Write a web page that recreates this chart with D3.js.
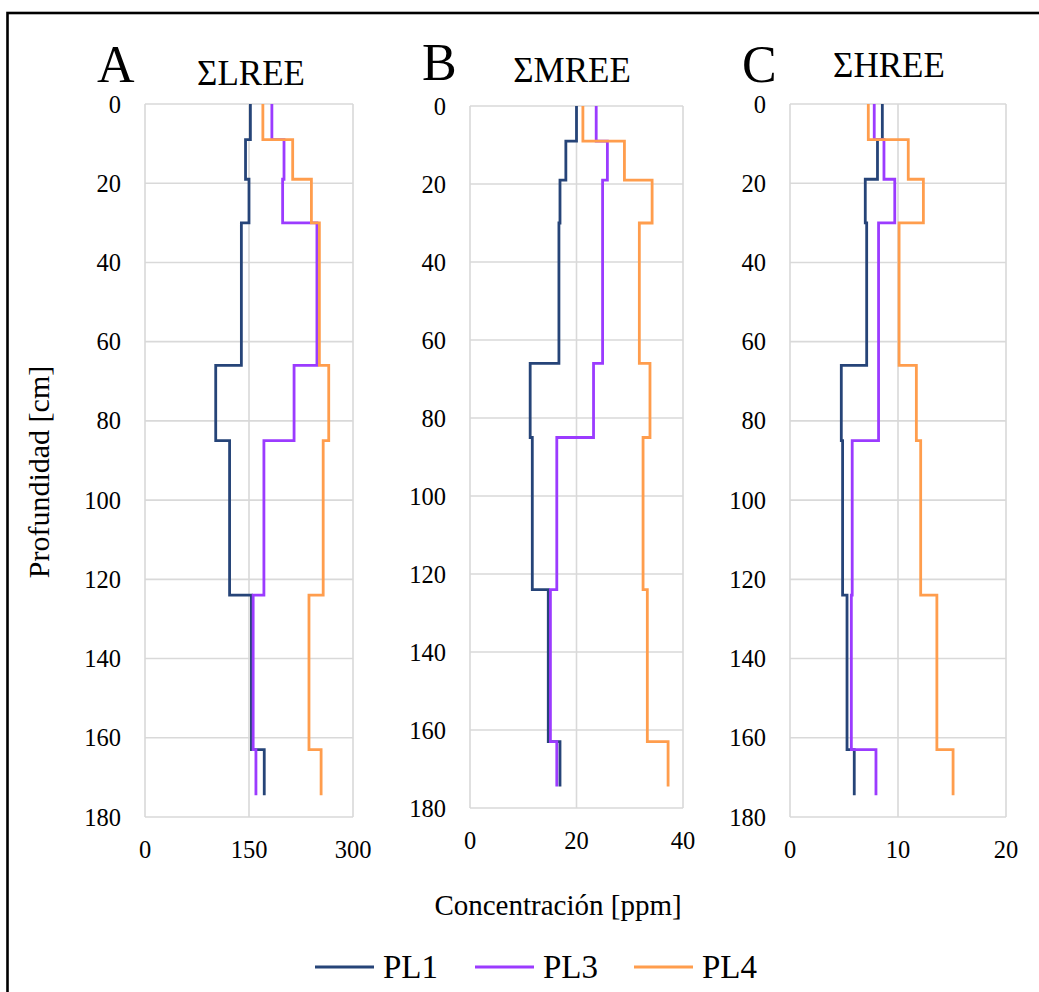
<!DOCTYPE html>
<html><head><meta charset="utf-8">
<script src="https://cdn.jsdelivr.net/npm/d3@7"></script>
<style>
body{margin:0;background:#fff}
</style>
</head><body>
<svg id="chart" width="1039" height="992" font-family="'Liberation Serif', 'DejaVu Serif', serif"></svg>
<script>
// ---- data ----
const depths = [0, 9, 19, 30, 66, 85, 124, 163, 174.5];
const seriesNames = ["PL1", "PL3", "PL4"];
const seriesColors = ["#264478", "#9B3BFF", "#FF9D4D"];

const lreePL1 = [152, 145, 150, 139, 102, 122, 153.5, 172];
const lreePL3 = [183, 200.5, 198.5, 248, 215, 171.5, 156, 160];
const lreePL4 = [170, 213, 240, 251.5, 265, 257, 236.5, 254];

const mreePL1 = [20.0, 18.0, 16.9, 16.7, 11.3, 11.7, 14.7, 16.9];
const mreePL3 = [23.7, 25.8, 24.9, 24.9, 23.2, 16.3, 15.1, 16.3];
const mreePL4 = [21.2, 29.0, 34.2, 31.8, 33.8, 32.5, 33.3, 37.2];

const hreePL1 = [8.55, 8.1, 6.97, 7.1, 4.75, 4.87, 5.28, 5.95];
const hreePL3 = [7.8, 8.7, 9.7, 8.2, 8.2, 5.76, 5.68, 7.96];
const hreePL4 = [7.25, 10.95, 12.35, 10.1, 11.7, 12.1, 13.6, 15.1];

const panelLetters = ["A", "B", "C"];
const panelTitles = ["ΣLREE", "ΣMREE", "ΣHREE"];
const xTicksA = [0, 150, 300];
const xTicksB = [0, 20, 40];
const xTicksC = [0, 10, 20];
const yTicks = [0, 20, 40, 60, 80, 100, 120, 140, 160, 180];
const yLabel = "Profundidad [cm]";
const xLabel = "Concentración [ppm]";

// ---- layout ----
const FONT = "'Liberation Serif', 'DejaVu Serif', serif";
const panels = [
  {letter: panelLetters[0], title: panelTitles[0], ticks: xTicksA, series: [lreePL1, lreePL3, lreePL4],
   left: 145, right: 353, top: 104, bottom: 817, titleX: 251, titleY: 85, letterY: 82},
  {letter: panelLetters[1], title: panelTitles[1], ticks: xTicksB, series: [mreePL1, mreePL3, mreePL4],
   left: 470, right: 683, top: 106, bottom: 808, titleX: 572, titleY: 82, letterY: 80},
  {letter: panelLetters[2], title: panelTitles[2], ticks: xTicksC, series: [hreePL1, hreePL3, hreePL4],
   left: 790, right: 1006, top: 104, bottom: 817, titleX: 889, titleY: 77, letterY: 82}
];

const svg = d3.select("#chart");
svg.append("rect").attr("width", 1039).attr("height", 992).attr("fill", "#fff");
// outer frame (extends beyond the picture on the right and bottom)
svg.append("rect").attr("x", 7.5).attr("y", 13).attr("width", 1200).attr("height", 1200)
  .attr("fill", "none").attr("stroke", "#000").attr("stroke-width", 2.6);

const gridColor = "#d9d9d9";
function txt(sel) { return sel.attr("font-family", FONT).style("font-family", FONT).attr("fill", "#000"); }

panels.forEach(p => {
  const x = d3.scaleLinear().domain([p.ticks[0], p.ticks[p.ticks.length - 1]]).range([p.left, p.right]);
  const y = d3.scaleLinear().domain([0, 180]).range([p.top, p.bottom]);
  const g = svg.append("g");

  g.selectAll("line.hg").data(yTicks).join("line")
    .attr("x1", p.left).attr("x2", p.right)
    .attr("y1", d => y(d)).attr("y2", d => y(d))
    .attr("stroke", gridColor).attr("stroke-width", 1.6);
  g.selectAll("line.vg").data(p.ticks).join("line")
    .attr("x1", d => x(d)).attr("x2", d => x(d))
    .attr("y1", p.top).attr("y2", p.bottom)
    .attr("stroke", gridColor).attr("stroke-width", 1.6);

  txt(g.selectAll("text.yt").data(yTicks).join("text"))
    .attr("x", p.left - 24).attr("y", d => y(d) + 8.5)
    .attr("text-anchor", "end").attr("font-size", 24.5).text(d => d);
  txt(g.selectAll("text.xt").data(p.ticks).join("text"))
    .attr("x", d => x(d)).attr("y", p.bottom + 41)
    .attr("text-anchor", "middle").attr("font-size", 24.5).text(d => d);

  const line = d3.line().x(d => x(d[0])).y(d => y(d[1]));
  p.series.forEach((vals, si) => {
    const pts = [];
    vals.forEach((v, i) => { pts.push([v, depths[i]]); pts.push([v, depths[i + 1]]); });
    g.append("path").datum(pts).attr("d", line)
      .attr("fill", "none").attr("stroke", seriesColors[si])
      .attr("stroke-width", 2.8).attr("stroke-linejoin", "miter");
  });

  txt(svg.append("text")).attr("x", p.left - 48).attr("y", p.letterY)
    .attr("font-size", 52).text(p.letter);
  txt(svg.append("text")).attr("x", p.titleX).attr("y", p.titleY)
    .attr("text-anchor", "middle").attr("font-size", 35).text(p.title);
});

txt(svg.append("text")).attr("transform", "translate(49,472) rotate(-90)")
  .attr("text-anchor", "middle").attr("font-size", 30).text(yLabel);
txt(svg.append("text")).attr("x", 558).attr("y", 915)
  .attr("text-anchor", "middle").attr("font-size", 29).text(xLabel);

const legendX = [315, 475, 634];
const lg = svg.append("g");
seriesNames.forEach((n, i) => {
  lg.append("line").attr("x1", legendX[i]).attr("x2", legendX[i] + 59)
    .attr("y1", 967).attr("y2", 967)
    .attr("stroke", seriesColors[i]).attr("stroke-width", 3);
  txt(lg.append("text")).attr("x", legendX[i] + 68).attr("y", 978)
    .attr("font-size", 33).text(n);
});
</script>
</body></html>
